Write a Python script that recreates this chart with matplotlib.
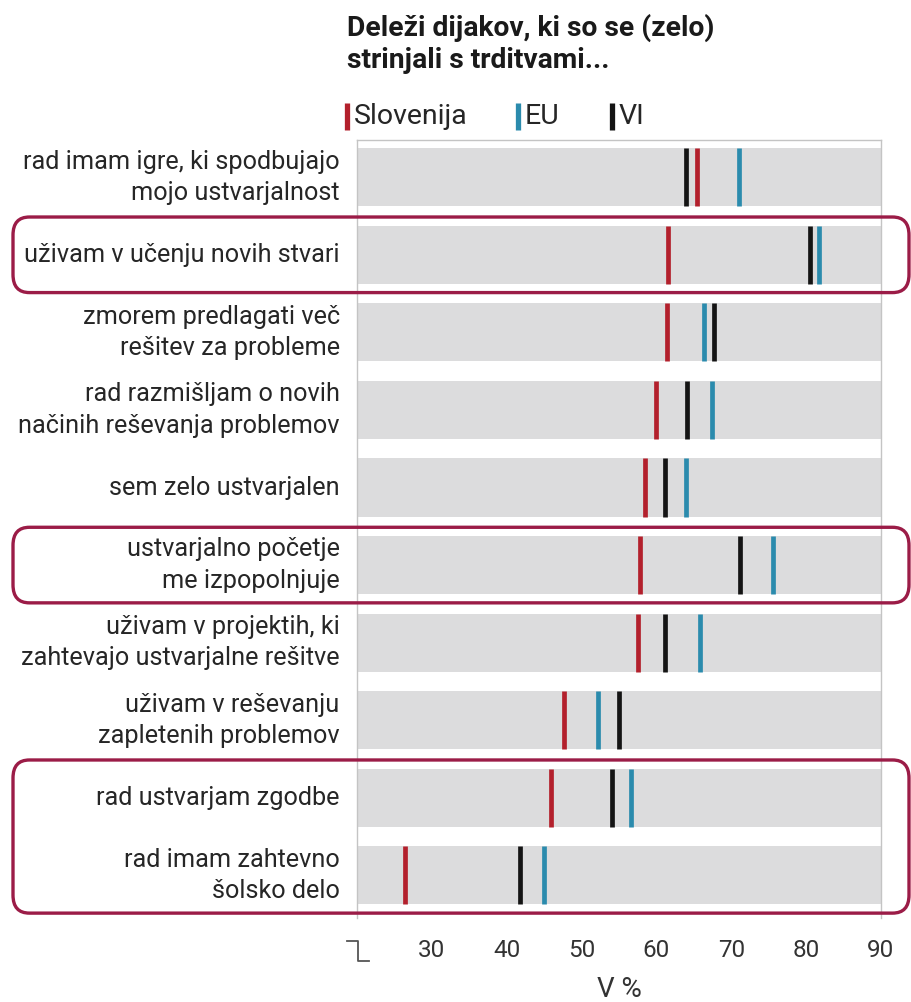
import matplotlib
matplotlib.use('Agg')
import matplotlib.pyplot as plt
from matplotlib.patches import FancyBboxPatch
from matplotlib.lines import Line2D

plt.rcParams['font.family'] = ['Roboto', 'DejaVu Sans']

# ==================== 数据 ====================
labels = [
    'rad imam igre, ki spodbujajo\nmojo ustvarjalnost',
    'uživam v učenju novih stvari',
    'zmorem predlagati več\nrešitev za probleme',
    'rad razmišljam o novih\nnačinih reševanja problemov',
    'sem zelo ustvarjalen',
    'ustvarjalno početje\nme izpopolnjuje',
    'uživam v projektih, ki\nzahtevajo ustvarjalne rešitve',
    'uživam v reševanju\nzapletenih problemov',
    'rad ustvarjam zgodbe',
    'rad imam zahtevno\nšolsko delo',
]
slovenija = [65.4, 61.5, 61.4, 59.9, 58.5, 57.8, 57.5, 47.7, 45.9, 26.4]
eu = [71.0, 81.7, 66.4, 67.4, 63.9, 75.6, 65.8, 52.2, 56.6, 45.0]
vi = [63.9, 80.5, 67.7, 64.1, 61.1, 71.2, 61.1, 55.0, 54.1, 41.8]
xticks = [30, 40, 50, 60, 70, 80, 90]
highlight_rows = [(1, 1), (5, 5), (8, 9)]

RED = '#b3202c'
BLUE = '#2b8bad'
BLACK = '#141414'
GRAY = '#dcdcdd'
BOX = '#9b1c47'

W, H = 911, 1002
fig = plt.figure(figsize=(W / 100, H / 100), dpi=100)
ax = fig.add_axes([357 / W, 1 - 918 / H, (881 - 357) / W, (918 - 140) / H])

n = len(labels)
ys = list(range(n))
bar_h = 0.75

ax.barh(ys, [90 - 20] * n, left=20, height=bar_h, color=GRAY, zorder=1)
for vals, col in [(slovenija, RED), (eu, BLUE), (vi, BLACK)]:
    for y, v in zip(ys, vals):
        ax.plot([v, v], [y - bar_h / 2, y + bar_h / 2], color=col,
                linewidth=3.4, solid_capstyle='butt', zorder=3)

ax.set_xlim(20, 90)
ax.set_ylim(9.55, -0.48)
ax.set_xticks(xticks)
ax.set_xticklabels([str(t) for t in xticks], fontsize=17.5, color='#333333')
ax.tick_params(axis='x', length=0, pad=15)
ax.set_yticks([])
ax.set_xlabel('V %', fontsize=20, color='#333333', labelpad=10)
for s in ['left', 'right', 'top']:
    ax.spines[s].set_color('#c4c4c4')
    ax.spines[s].set_linewidth(1)
ax.spines['bottom'].set_visible(False)

# 分类标签
for y, lab in zip(ys, labels):
    ax.text(-0.033, y, lab, transform=ax.get_yaxis_transform(),
            ha='right', va='center', multialignment='right',
            fontsize=18.2, color='#262626', linespacing=1.38)

# 断轴符号
bx = [347 / W, 358 / W, 358 / W, 369 / W]
byy = [1 - 941 / H, 1 - 941 / H, 1 - 961 / H, 1 - 961 / H]
fig.add_artist(Line2D(bx, byy, color='#555555', linewidth=1.3))

# 高亮框
pitch = (918 - 140) / (9.55 + 0.48)
for r0, r1 in highlight_rows:
    top = 140 + (r0 - 0.5 + 0.48) * pitch + 1
    bot = 140 + (r1 + 0.5 + 0.48) * pitch - 1
    box = FancyBboxPatch((13 / W, 1 - bot / H), (909 - 13) / W, (bot - top) / H,
                         boxstyle='round,pad=0,rounding_size=0.018',
                         transform=fig.transFigure, fill=False,
                         edgecolor=BOX, linewidth=2.4, zorder=5)
    fig.add_artist(box)

# 标题
fig.text(347 / W, 1 - 14 / H, 'Deleži dijakov, ki so se (zelo)\nstrinjali s trditvami...',
         ha='left', va='top', fontsize=20.3, fontweight='bold', color='#1a1a1a',
         linespacing=1.22)

# 图例
legend_items = [('Slovenija', RED, 347), ('EU', BLUE, 518), ('VI', BLACK, 612)]
for name, col, px in legend_items:
    fig.add_artist(Line2D([px / W, px / W], [1 - 103 / H, 1 - 130 / H],
                          color=col, linewidth=3.8, solid_capstyle='butt'))
    fig.text((px + 7) / W, 1 - 116 / H, name, ha='left', va='center',
             fontsize=20.5, color='#262626')

fig.savefig('out.png', dpi=100)
